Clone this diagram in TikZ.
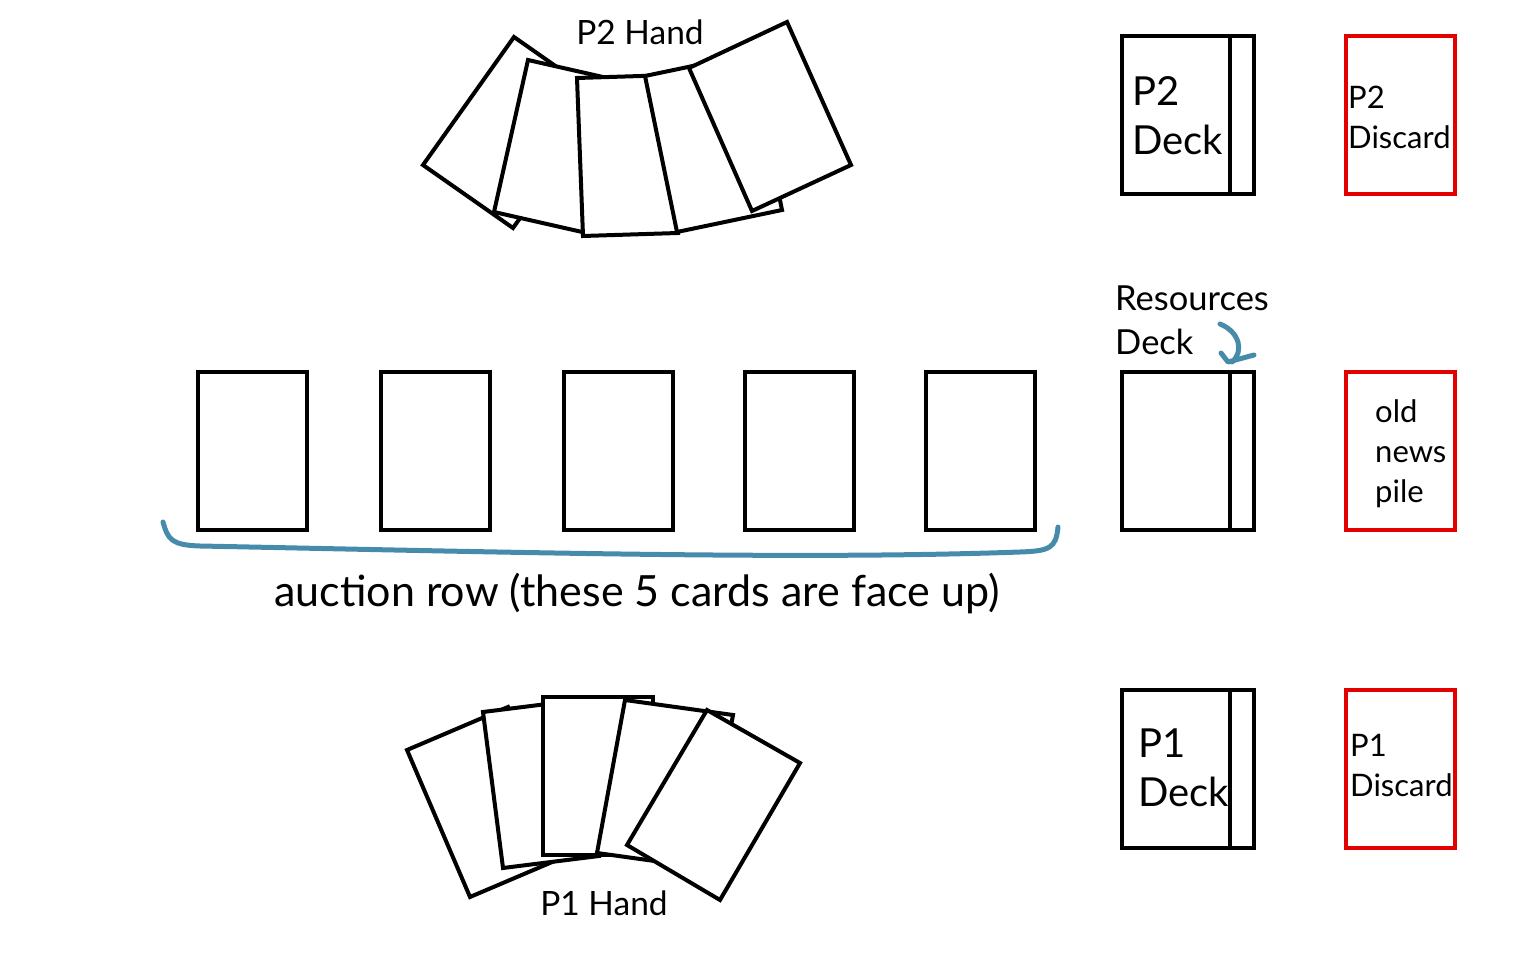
\documentclass[tikz,border=0pt]{standalone}
\usepackage{fontspec}
\setmainfont{Lato}
\begin{document}
\begin{tikzpicture}[x=1pt,y=-1pt,
  card/.style={draw=black,line width=4pt,fill=white,line join=miter},
  red card/.style={draw=red!90!black,line width=4pt},
  blueline/.style={draw={rgb,255:red,70;green,140;blue,170},line width=5pt,line cap=round,line join=round},
  lbl/.style={inner sep=0pt,font=\fontsize{33.5}{40}\selectfont},
  res/.style={inner sep=0pt,font=\fontsize{34.5}{44}\selectfont,align=left},
  big/.style={inner sep=0pt,font=\fontsize{40}{49}\selectfont,align=left},
  small/.style={inner sep=0pt,font=\fontsize{31}{40}\selectfont,align=left}]
\useasboundingbox (0,0) rectangle (1540,976);
% P2 hand
\draw[card] (514,37)--(423,165)--(513,228)--(604,100)--cycle;
\draw[card] (528,60)--(494,212)--(591,234)--(625,82)--cycle;
\draw[card] (577,78)--(583,236)--(678,233)--(673,75)--cycle;
\draw[card] (645,76)--(677,232)--(782,210)--(750,54)--cycle;
\draw[card] (689,68)--(787,22)--(851,165)--(752,211)--cycle;
\node[lbl] (p2h) at (640,32) {P2 Hand};
% P1 hand
\draw[card] (407,750)--(470,897)--(571,854)--(508,707)--cycle;
\draw[card] (483,712)--(503,868)--(599,856)--(579,700)--cycle;
\draw[card] (543,697) rectangle (653,855);
\draw[card] (625,700)--(597,853)--(705,868)--(733,715)--cycle;
\draw[card] (707,710)--(800,763)--(720,900)--(627,845)--cycle;
\node[lbl] (p1h) at (604,903) {P1 Hand};
% auction row
\foreach \x [count=\i] in {198,381,564,745,926}
  \draw[card] (\x,372) rectangle +(109,158);
\draw[blueline] (163,522) .. controls (168,540) and (172,545) .. (200,546)
  .. controls (500,552) and (800,560) .. (1020,552)
  .. controls (1050,551) and (1056,548) .. (1058,527);
\node[inner sep=0pt,font=\fontsize{43}{48}\selectfont] (auc) at (637,594) {auction row (these 5 cards are face up)};
% decks
\foreach \y/\n in {36/p2d,372/rd,690/p1d}{
  \draw[card] (1122,\y) rectangle +(132,158);
  \draw[line width=4pt] (1230,\y) -- +(0,158);
}
\node[big,anchor=west] (p2dt) at (1132,116) {P2\\Deck};
\node[big,anchor=west] (p1dt) at (1138,768) {P1\\Deck};
\node[res,anchor=west] (rdt) at (1115,320) {Resources\\Deck};
\draw[blueline] (1220,324) .. controls (1240,332) and (1244,352) .. (1232,362);
\draw[blueline] (1221,353) -- (1228,362) -- (1254,355);
% discards
\foreach \y in {36,372,690}
  \draw[red card] (1346,\y) rectangle +(109,158);
\node[small,anchor=west] (p2x) at (1348,117) {P2\\Discard};
\node[small,anchor=west] (p1x) at (1350,765) {P1\\Discard};
\node[small,anchor=west] (old) at (1375,454) {old\\news\\pile};
\end{tikzpicture}
\end{document}
